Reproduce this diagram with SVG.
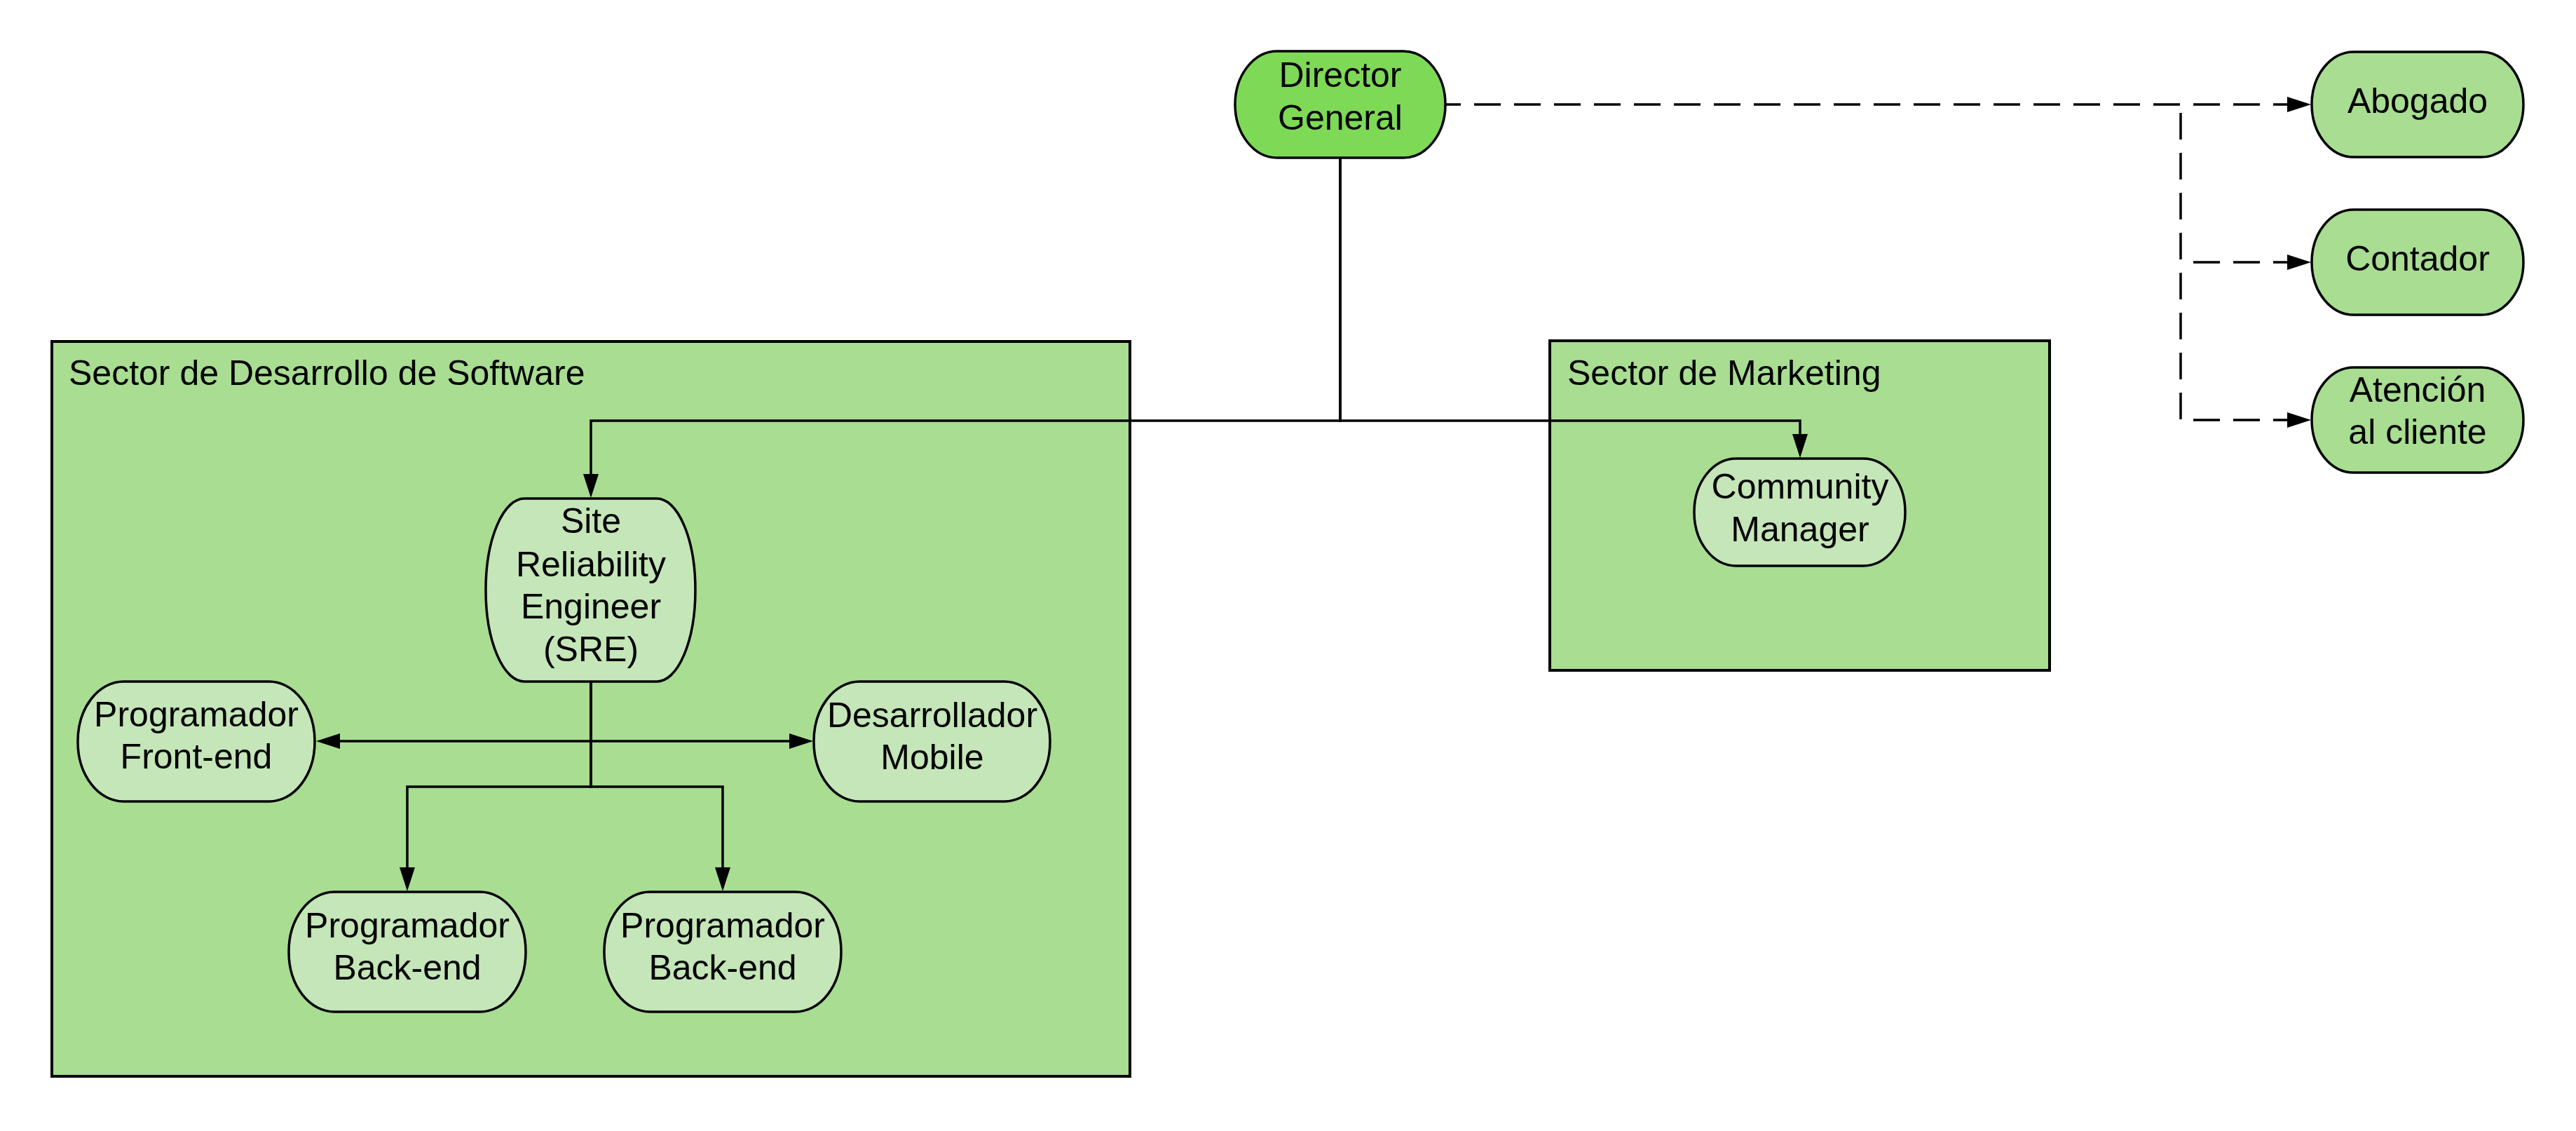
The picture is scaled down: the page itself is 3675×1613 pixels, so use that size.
<svg xmlns="http://www.w3.org/2000/svg" width="3675" height="1613" viewBox="0 0 3675 1613">
  <style>
    text { font-family: "Liberation Sans", Arial, sans-serif; font-size: 50px; fill: #000; }
    .c { text-anchor: middle; }
    .sector { fill: #A8DD92; stroke: #000; stroke-width: 4; }
    .node { stroke: #000; stroke-width: 3.5; }
    .top { fill: #7ED957; }
    .side { fill: #A8DD92; }
    .inner { fill: #C5E6B8; }
    .line { fill: none; stroke: #000; stroke-width: 3.5; }
    .dash { fill: none; stroke: #000; stroke-width: 3.5; stroke-dasharray: 38 19; }
  </style>
  <defs>
    <marker id="arrow" viewBox="0 0 34 22" refX="1" refY="11" markerWidth="34" markerHeight="22" markerUnits="userSpaceOnUse" orient="auto">
      <path d="M0,0 L34,11 L0,22 z" fill="#000"/>
    </marker>
  </defs>
  <rect width="3675" height="1613" fill="#FFFFFF"/>

  <g id="sector-desarrollo">
    <rect class="sector" x="74" y="487" width="1538" height="1048"/>
    <text x="98" y="549">Sector de Desarrollo de Software</text>
  </g>
  <g id="sector-marketing">
    <rect class="sector" x="2211" y="486" width="713" height="470"/>
    <text x="2236" y="549">Sector de Marketing</text>
  </g>

  <g id="connectors">
    <path class="line" d="M1912,225 V600 H843 V677" marker-end="url(#arrow)"/>
    <path class="line" d="M1912,225 V600 H2568 V620" marker-end="url(#arrow)"/>
    <path class="line" d="M843,972 V1057 H484" marker-end="url(#arrow)"/>
    <path class="line" d="M843,972 V1057 H1127" marker-end="url(#arrow)"/>
    <path class="line" d="M843,972 V1122 H581 V1238" marker-end="url(#arrow)"/>
    <path class="line" d="M843,972 V1122 H1031 V1238" marker-end="url(#arrow)"/>
    <path class="dash" d="M2062,149 H3264" stroke-dashoffset="16" marker-end="url(#arrow)"/>
    <path class="dash" d="M3111,161 V598"/>
    <path class="dash" d="M3129,374 H3264" marker-end="url(#arrow)"/>
    <path class="dash" d="M3129,599 H3264" marker-end="url(#arrow)"/>
  </g>

  <g id="director-general">
    <rect class="node top" x="1762" y="73" width="300" height="152" rx="60" ry="76"/>
    <text class="c" x="1912" y="124">Director</text>
    <text class="c" x="1912" y="185">General</text>
  </g>
  <g id="abogado">
    <rect class="node side" x="3298" y="74" width="302" height="150" rx="60" ry="75"/>
    <text class="c" x="3449" y="161">Abogado</text>
  </g>
  <g id="contador">
    <rect class="node side" x="3298" y="299" width="302" height="150" rx="60" ry="75"/>
    <text class="c" x="3449" y="386">Contador</text>
  </g>
  <g id="atencion-cliente">
    <rect class="node side" x="3298" y="524" width="302" height="150" rx="60" ry="75"/>
    <text class="c" x="3449" y="573">Atención</text>
    <text class="c" x="3449" y="633">al cliente</text>
  </g>
  <g id="sre">
    <rect class="node inner" x="693" y="711" width="299" height="261" rx="55" ry="130"/>
    <text class="c" x="843" y="760">Site</text>
    <text class="c" x="843" y="822">Reliability</text>
    <text class="c" x="843" y="882">Engineer</text>
    <text class="c" x="843" y="943">(SRE)</text>
  </g>
  <g id="community-manager">
    <rect class="node inner" x="2417" y="654" width="301" height="153" rx="60" ry="76"/>
    <text class="c" x="2568" y="711">Community</text>
    <text class="c" x="2568" y="772">Manager</text>
  </g>
  <g id="programador-frontend">
    <rect class="node inner" x="111" y="972" width="338" height="171" rx="65" ry="85"/>
    <text class="c" x="280" y="1036">Programador</text>
    <text class="c" x="280" y="1096">Front-end</text>
  </g>
  <g id="desarrollador-mobile">
    <rect class="node inner" x="1161" y="972" width="337" height="171" rx="65" ry="85"/>
    <text class="c" x="1330" y="1037">Desarrollador</text>
    <text class="c" x="1330" y="1097">Mobile</text>
  </g>
  <g id="programador-backend-1">
    <rect class="node inner" x="412" y="1272" width="338" height="171" rx="65" ry="85"/>
    <text class="c" x="581" y="1337">Programador</text>
    <text class="c" x="581" y="1397">Back-end</text>
  </g>
  <g id="programador-backend-2">
    <rect class="node inner" x="862" y="1272" width="338" height="171" rx="65" ry="85"/>
    <text class="c" x="1031" y="1337">Programador</text>
    <text class="c" x="1031" y="1397">Back-end</text>
  </g>
</svg>
